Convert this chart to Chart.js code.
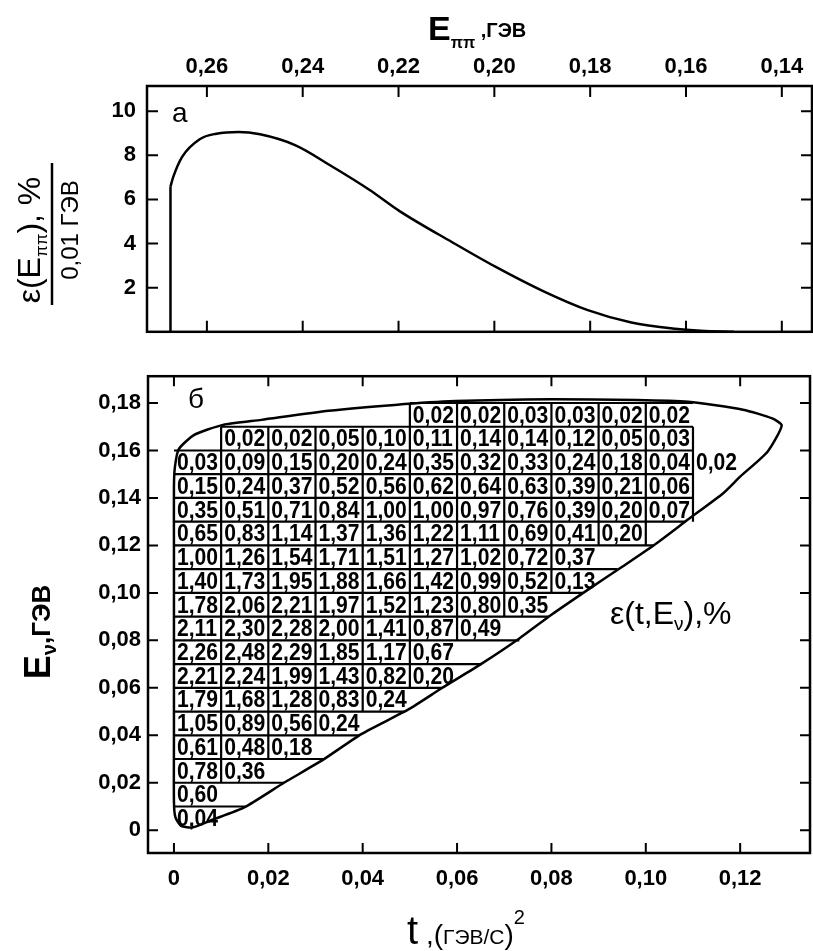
<!DOCTYPE html>
<html>
<head>
<meta charset="utf-8">
<script src="https://cdn.jsdelivr.net/npm/chart.js@4.4.0/dist/chart.umd.min.js"></script>
<style>
  html, body { margin: 0; padding: 0; background: #fff; }
  #wrap { position: relative; width: 813px; height: 951px; overflow: hidden; }
  canvas { position: absolute; left: 0; }
  #topChart { top: 0; }
  #bottomChart { top: 356px; }
</style>
</head>
<body>
<div id="wrap">
  <canvas id="topChart" width="813" height="356"></canvas>
  <canvas id="bottomChart" width="813" height="595"></canvas>
</div>
<script>
// ===== верхняя панель (а): ε(Eππ) =====
const epiTicks = [0.26, 0.24, 0.22, 0.20, 0.18, 0.16, 0.14];
const effTicks = [2, 4, 6, 8, 10];
// вертикальный подъём у порога
const epiRise = [0.2676, 0.2676];
const effRise = [0, 6.58];
// сама кривая
const epiCurve = [0.2676, 0.2670, 0.2652, 0.2615, 0.2580, 0.2534, 0.2489, 0.2416, 0.2343, 0.2261,
                  0.2197, 0.2088, 0.1997, 0.1896, 0.1805, 0.1714, 0.1623, 0.1569, 0.1500];
const effCurve = [6.58, 7.03, 7.92, 8.73, 8.98, 9.06, 8.95, 8.46, 7.55, 6.44,
                  5.46, 4.06, 2.94, 1.82, 0.98, 0.42, 0.14, 0.05, 0.0];

// ===== нижняя панель (б): ε(t, Eν) по ячейкам =====
const tTicks = [0, 0.02, 0.04, 0.06, 0.08, 0.10, 0.12];
const enuTicks = [0, 0.02, 0.04, 0.06, 0.08, 0.10, 0.12, 0.14, 0.16, 0.18];
const CELL_T = 0.01;   // ширина ячейки по t
const CELL_E = 0.01;   // высота ячейки по Eν
// строки снизу вверх: первый столбец и значения, %
const rowStart = [0, 0, 0, 0, 0, 0, 0, 0, 0, 0, 0, 0, 0, 0, 0, 0, 1, 5];
const rowValues = [
  [0.04],
  [0.60],
  [0.78, 0.36],
  [0.61, 0.48, 0.18],
  [1.05, 0.89, 0.56, 0.24],
  [1.79, 1.68, 1.28, 0.83, 0.24],
  [2.21, 2.24, 1.99, 1.43, 0.82, 0.20],
  [2.26, 2.48, 2.29, 1.85, 1.17, 0.67],
  [2.11, 2.30, 2.28, 2.00, 1.41, 0.87, 0.49],
  [1.78, 2.06, 2.21, 1.97, 1.52, 1.23, 0.80, 0.35],
  [1.40, 1.73, 1.95, 1.88, 1.66, 1.42, 0.99, 0.52, 0.13],
  [1.00, 1.26, 1.54, 1.71, 1.51, 1.27, 1.02, 0.72, 0.37],
  [0.65, 0.83, 1.14, 1.37, 1.36, 1.22, 1.11, 0.69, 0.41, 0.20],
  [0.35, 0.51, 0.71, 0.84, 1.00, 1.00, 0.97, 0.76, 0.39, 0.20, 0.07],
  [0.15, 0.24, 0.37, 0.52, 0.56, 0.62, 0.64, 0.63, 0.39, 0.21, 0.06],
  [0.03, 0.09, 0.15, 0.20, 0.24, 0.35, 0.32, 0.33, 0.24, 0.18, 0.04, 0.02],
  [0.02, 0.02, 0.05, 0.10, 0.11, 0.14, 0.14, 0.12, 0.05, 0.03],
  [0.02, 0.02, 0.03, 0.03, 0.02, 0.02]
];
// правая граница рамки строки (номер столбца), null — рамки справа нет
const rowRightEdge = [null, null, null, null, null, null, null, null, null, null, null, null, 10, 11, 11, 11, 11, null];
// где кончаются горизонтальные линии уровней Eν = 0.01..0.18
const levelEnd = [0.0152, 0.0233, 0.0320, 0.0393, 0.0490, 0.0570, 0.0650, 0.0732, 0.0795,
                  0.0868, 0.0940, 0.1016, 0.1083, 0.11, 0.11, 0.11, 0.11, 0.11];
// граница кинематической области
const boundT = [0, 0, 0, 0.0002, 0.0010, 0.0043, 0.0104, 0.0185, 0.0328, 0.0468, 0.0596, 0.0800,
                0.0980, 0.1090, 0.1206, 0.1268, 0.1288, 0.1258, 0.1200, 0.1164, 0.1090, 0.1020,
                0.0950, 0.0880, 0.0800, 0.0732, 0.0653, 0.0568, 0.0498, 0.0398, 0.0313, 0.0234,
                0.0149, 0.0079, 0.0040, 0.0015, 0.0003, 0, 0, 0];
const boundE = [0.080, 0.120, 0.145, 0.153, 0.1605, 0.1666, 0.1708, 0.1729, 0.1767, 0.1792, 0.1808, 0.1816,
                0.1813, 0.1805, 0.1772, 0.1735, 0.1705, 0.1595, 0.1490, 0.1420, 0.1310, 0.1205,
                0.1110, 0.1017, 0.0908, 0.0808, 0.0703, 0.0599, 0.0510, 0.0406, 0.0293, 0.0201,
                0.0096, 0.0042, 0.0012, 0.0018, 0.0055, 0.0120, 0.0400, 0.0800];

const NARROW = "'Liberation Sans Narrow', 'Liberation Sans', 'DejaVu Sans Condensed', sans-serif";

function fmt(v) {
  return v === 0 ? '0' : v.toFixed(2).replace('.', ',');
}

// текст из кусков разного размера (индексы, степени)
function drawRuns(ctx, x, y, runs, align) {
  let total = 0;
  runs.forEach(r => {
    ctx.font = `${r[2]} ${r[1]}px ${NARROW}`;
    total += ctx.measureText(r[0]).width;
  });
  let cx = align === 'center' ? x - total / 2 : x;
  ctx.textAlign = 'left';
  ctx.textBaseline = 'alphabetic';
  runs.forEach(r => {
    ctx.font = `${r[2]} ${r[1]}px ${NARROW}`;
    ctx.fillText(r[0], cx, y + r[3]);
    cx += ctx.measureText(r[0]).width;
  });
}

function rotated(ctx, x, y, fn) {
  ctx.save();
  ctx.translate(x, y);
  ctx.rotate(-Math.PI / 2);
  fn();
  ctx.restore();
}

// рамка с засечками внутрь по всем четырём сторонам
function drawFrame(chart, xTicks, yTicks, len) {
  const { ctx, chartArea: a, scales } = chart;
  ctx.save();
  ctx.strokeStyle = '#000';
  ctx.lineWidth = 2.5;
  ctx.strokeRect(a.left, a.top, a.right - a.left, a.bottom - a.top);
  ctx.lineWidth = 2;
  ctx.beginPath();
  xTicks.forEach(v => {
    const p = scales.x.getPixelForValue(v);
    ctx.moveTo(p, a.top); ctx.lineTo(p, a.top + len);
    ctx.moveTo(p, a.bottom); ctx.lineTo(p, a.bottom - len);
  });
  yTicks.forEach(v => {
    const p = scales.y.getPixelForValue(v);
    ctx.moveTo(a.left, p); ctx.lineTo(a.left + len, p);
    ctx.moveTo(a.right, p); ctx.lineTo(a.right - len, p);
  });
  ctx.stroke();
  ctx.restore();
}

function axisOpts(extra) {
  return Object.assign({
    type: 'linear',
    grid: { display: false, drawTicks: false },
    border: { display: false }
  }, extra);
}

Chart.defaults.animation = false;
Chart.defaults.color = '#000';

/* ===== (а) ===== */
const topPlugin = {
  id: 'topDecor',
  afterDraw(chart) {
    const ctx = chart.ctx;
    drawFrame(chart, epiTicks, effTicks, 11);
    ctx.save();
    ctx.fillStyle = '#000';
    drawRuns(ctx, 172, 122, [['а', 28, 'normal', 0]], 'left');
    drawRuns(ctx, 428, 40, [['E', 34, 'bold', 0], ['ππ', 16, 'bold', 8], [' ,ГЭВ', 20, 'bold', -3]], 'left');
    // подпись оси Y — дробь
    rotated(ctx, 40, 240, () => {
      drawRuns(ctx, 0, 0, [['ε(E', 32, 'normal', 0], ['ππ', 17, 'normal', 7], ['), %', 32, 'normal', 0]], 'center');
    });
    rotated(ctx, 78, 230, () => {
      drawRuns(ctx, 0, 0, [['0,01 ГЭВ', 24, 'normal', 0]], 'center');
    });
    ctx.lineWidth = 2.5;
    ctx.beginPath();
    ctx.moveTo(52, 163); ctx.lineTo(52, 305);
    ctx.stroke();
    ctx.restore();
  }
};

new Chart(document.getElementById('topChart'), {
  type: 'scatter',
  data: {
    datasets: [
      {
        data: epiRise.map((e, i) => ({ x: e, y: effRise[i] })),
        showLine: true, borderColor: '#000', borderWidth: 2.5, pointRadius: 0, tension: 0
      },
      {
        data: epiCurve.map((e, i) => ({ x: e, y: effCurve[i] })),
        showLine: true, borderColor: '#000', borderWidth: 2.5, pointRadius: 0,
        cubicInterpolationMode: 'monotone'
      }
    ]
  },
  options: {
    responsive: false,
    layout: { padding: { left: 0, top: 0, right: 1, bottom: 7 } },
    plugins: { legend: { display: false }, tooltip: { enabled: false } },
    scales: {
      x: axisOpts({
        position: 'top', reverse: true, min: 0.1337, max: 0.2725,
        afterBuildTicks: s => { s.ticks = epiTicks.map(v => ({ value: v })); },
        afterFit: s => { s.height = 86; },
        ticks: {
          color: '#000', autoSkip: false, maxRotation: 0, padding: 6,
          font: { family: NARROW, size: 22, weight: 'bold' },
          callback: v => fmt(v)
        }
      }),
      y: axisOpts({
        position: 'left', min: 0, max: 11.14,
        afterBuildTicks: s => { s.ticks = effTicks.map(v => ({ value: v })); },
        afterFit: s => { s.width = 147; },
        ticks: {
          color: '#000', autoSkip: false, padding: 11,
          font: { family: NARROW, size: 22, weight: 'bold' },
          callback: v => String(v)
        }
      })
    }
  },
  plugins: [topPlugin]
});

/* ===== (б) ===== */
const cellPlugin = {
  id: 'cells',
  afterDatasetsDraw(chart) {
    const { ctx, scales: { x, y } } = chart;
    ctx.save();
    ctx.strokeStyle = '#000';
    ctx.lineWidth = 2.2;
    ctx.beginPath();
    // горизонтальные линии уровней
    levelEnd.forEach((tEnd, i) => {
      const k = i + 1;
      const below = rowStart[k - 1];
      const above = k < rowStart.length ? rowStart[k] : below;
      const tBeg = Math.min(below, above) * CELL_T;
      const py = y.getPixelForValue(k * CELL_E);
      ctx.moveTo(x.getPixelForValue(tBeg), py);
      ctx.lineTo(x.getPixelForValue(tEnd), py);
    });
    // вертикальные перегородки (левый край t = 0 дает сама граница)
    rowValues.forEach((vals, r) => {
      const last = rowRightEdge[r] !== null ? rowRightEdge[r] : rowStart[r] + vals.length - 1;
      const y0 = y.getPixelForValue(r * CELL_E);
      const y1 = y.getPixelForValue((r + 1) * CELL_E);
      for (let c = Math.max(rowStart[r], 1); c <= last; c++) {
        const px = x.getPixelForValue(c * CELL_T);
        ctx.moveTo(px, y0); ctx.lineTo(px, y1);
      }
    });
    ctx.stroke();

    // значения в ячейках
    ctx.fillStyle = '#000';
    ctx.font = `bold 24px ${NARROW}`;
    ctx.textAlign = 'left';
    ctx.textBaseline = 'middle';
    rowValues.forEach((vals, r) => {
      const py = y.getPixelForValue((r + 0.5) * CELL_E);
      vals.forEach((v, j) => {
        const px = x.getPixelForValue((rowStart[r] + j) * CELL_T);
        ctx.save();
        ctx.translate(px + 3, py + 1);
        ctx.scale(0.88, 1.02);
        ctx.fillText(fmt(v), 0, 0);
        ctx.restore();
      });
    });
    ctx.restore();
  },
  afterDraw(chart) {
    const ctx = chart.ctx;
    drawFrame(chart, tTicks, enuTicks, 10);
    ctx.save();
    ctx.fillStyle = '#000';
    drawRuns(ctx, 188, 52, [['б', 28, 'normal', 0]], 'left');
    drawRuns(ctx, 610, 268, [['ε(t,E', 32, 'normal', 0], ['ν', 19, 'normal', 6], ['),%', 32, 'normal', 0]], 'left');
    rotated(ctx, 50, 276, () => {
      drawRuns(ctx, 0, 0, [['E', 36, 'bold', 0], ['ν', 20, 'bold', 6], [',ГЭВ', 26, 'bold', 0]], 'center');
    });
    drawRuns(ctx, 466, 588, [['t', 40, 'normal', 0], [' ,(', 28, 'normal', 0], ['ГЭВ/С', 21, 'normal', 0],
                            [')', 28, 'normal', 0], ['2', 20, 'normal', -20]], 'center');
    ctx.restore();
  }
};

new Chart(document.getElementById('bottomChart'), {
  type: 'scatter',
  data: {
    datasets: [
      {
        data: boundT.map((t, i) => ({ x: t, y: boundE[i] })),
        showLine: true, borderColor: '#000', borderWidth: 2.5, pointRadius: 0, tension: 0.2
      }
    ]
  },
  options: {
    responsive: false,
    layout: { padding: { left: 0, top: 17, right: 3, bottom: 0 } },
    plugins: { legend: { display: false }, tooltip: { enabled: false } },
    scales: {
      x: axisOpts({
        position: 'bottom', min: -0.0055, max: 0.1348,
        afterBuildTicks: s => { s.ticks = tTicks.map(v => ({ value: v })); },
        afterFit: s => { s.height = 98; },
        ticks: {
          color: '#000', autoSkip: false, maxRotation: 0, padding: 13,
          font: { family: NARROW, size: 22, weight: 'bold' },
          callback: v => fmt(v)
        }
      }),
      y: axisOpts({
        position: 'left', min: -0.0096, max: 0.1913,
        afterBuildTicks: s => { s.ticks = enuTicks.map(v => ({ value: v })); },
        afterFit: s => { s.width = 148; },
        ticks: {
          color: '#000', autoSkip: false, padding: 7,
          font: { family: NARROW, size: 22, weight: 'bold' },
          callback: v => fmt(v)
        }
      })
    }
  },
  plugins: [cellPlugin]
});
</script>
</body>
</html>
